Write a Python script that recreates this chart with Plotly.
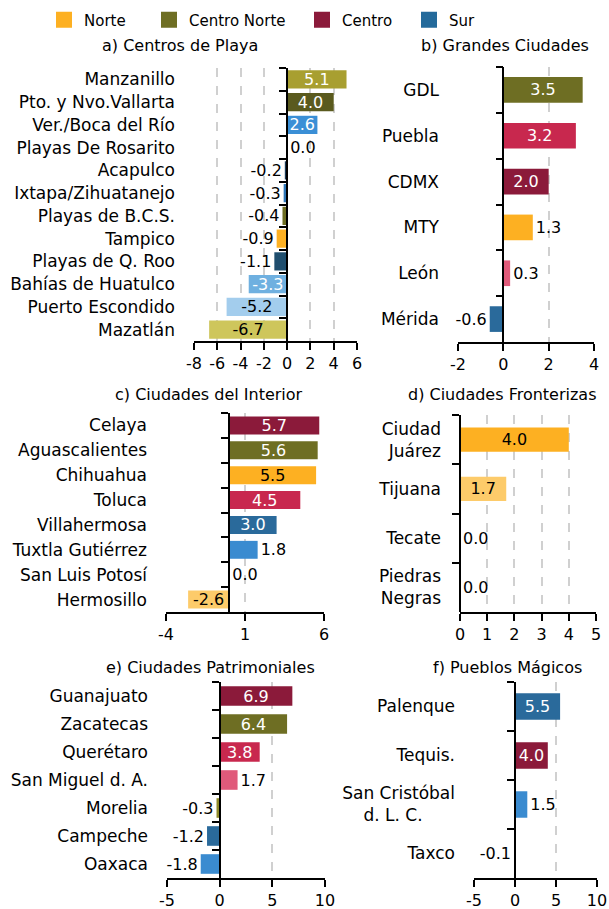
import plotly.graph_objects as go

W, H = 609, 909
FONT = "DejaVu Sans"
FS = 16        # bar labels, axis ticks, titles
FS_CAT = 17    # category labels
FS_LEG = 15    # legend

# ---------------- data ----------------
regions = ["Norte", "Centro Norte", "Centro", "Sur"]

a_names = ["Manzanillo", "Pto. y Nvo.Vallarta", "Ver./Boca del Río", "Playas De Rosarito",
           "Acapulco", "Ixtapa/Zihuatanejo", "Playas de B.C.S.", "Tampico",
           "Playas de Q. Roo", "Bahías de Huatulco", "Puerto Escondido", "Mazatlán"]
a_values = [5.1, 4.0, 2.6, 0.0, -0.2, -0.3, -0.4, -0.9, -1.1, -3.3, -5.2, -6.7]
a_ticks = [-8, -6, -4, -2, 0, 2, 4, 6]

b_names = ["GDL", "Puebla", "CDMX", "MTY", "León", "Mérida"]
b_values = [3.5, 3.2, 2.0, 1.3, 0.3, -0.6]
b_ticks = [-2, 0, 2, 4]

c_names = ["Celaya", "Aguascalientes", "Chihuahua", "Toluca", "Villahermosa",
           "Tuxtla Gutiérrez", "San Luis Potosí", "Hermosillo"]
c_values = [5.7, 5.6, 5.5, 4.5, 3.0, 1.8, 0.0, -2.6]
c_ticks = [-4, 1, 6]

d_names = ["Ciudad<br>Juárez", "Tijuana", "Tecate", "Piedras<br>Negras"]
d_values = [4.0, 1.7, 0.0, 0.0]
d_ticks = [0, 1, 2, 3, 4, 5]

e_names = ["Guanajuato", "Zacatecas", "Querétaro", "San Miguel d. A.", "Morelia",
           "Campeche", "Oaxaca"]
e_values = [6.9, 6.4, 3.8, 1.7, -0.3, -1.2, -1.8]
e_ticks = [-5, 0, 5, 10]

f_names = ["Palenque", "Tequis.", "San Cristóbal<br>d. L. C.\u00a0\u00a0\u00a0\u00a0\u00a0\u00a0", "Taxco"]
f_values = [5.5, 4.0, 1.5, -0.1]
f_ticks = [-5, 0, 5, 10]

titles = ["a) Centros de Playa", "b) Grandes Ciudades", "c) Ciudades del Interior",
          "d) Ciudades Fronterizas", "e) Ciudades Patrimoniales", "f) Pueblos Mágicos"]

# ---------------- styles ----------------
NORTE, CNORTE, CENTRO, SUR = "#FDB022", "#6E6E23", "#8B1A3A", "#246A9B"
legend_colors = [NORTE, CNORTE, CENTRO, SUR]
legend_swatch_x = [63, 168, 321, 428]   # pixel centre of each legend swatch
W_, K_ = "white", "black"

a_colors = ["#A89F30", "#5A5A1E", "#3A8FD6", NORTE, "#1B3A57", "#2E75B6", CNORTE,
            NORTE, "#1F4E6E", "#6FB0E0", "#A3CDED", "#CEC65C"]
a_tc = [W_, W_, W_, K_, K_, K_, K_, K_, K_, W_, K_, K_]
a_tp = ["inside", "inside", "inside", "outside", "outside", "outside", "outside",
        "outside", "outside", "inside", "inside", "inside"]

b_colors = [CNORTE, "#C8284E", CENTRO, NORTE, "#E05A7A", "#2A6A9B"]
b_tc = [W_, W_, W_, K_, K_, K_]
b_tp = ["inside", "inside", "inside", "outside", "outside", "outside"]

c_colors = [CENTRO, CNORTE, NORTE, "#C8284E", "#2A6A9B", "#3A8BD0", NORTE, "#FDCB6A"]
c_tc = [W_, W_, K_, W_, W_, K_, K_, K_]
c_tp = ["inside", "inside", "inside", "inside", "inside", "outside", "outside", "inside"]

d_colors = [NORTE, "#FDCB6A", NORTE, NORTE]
d_tc = [K_, K_, K_, K_]
d_tp = ["inside", "inside", "outside", "outside"]

e_colors = [CENTRO, CNORTE, "#C8284E", "#E05A7A", "#8E8A2A", "#2A6A9B", "#3A8BD0"]
e_tc = [W_, W_, W_, K_, K_, K_, K_]
e_tp = ["inside", "inside", "inside", "outside", "outside", "outside", "outside"]

f_colors = ["#2A6A9B", CENTRO, "#3A8BD0", "#6FB0E0"]
f_tc = [W_, W_, K_, K_]
f_tp = ["inside", "inside", "outside", "outside"]

# panel layout (pixels): x0, x1, ytop, ybottom ; axis range ; bar width ; title pos
panels = [
    dict(names=a_names, values=a_values, ticks=a_ticks, colors=a_colors, tc=a_tc, tp=a_tp,
         box=(194, 357, 68, 341), rng=(-8, 6), bw=0.8, tpos=(180, 45)),
    dict(names=b_names, values=b_values, ticks=b_ticks, colors=b_colors, tc=b_tc, tp=b_tp,
         box=(458, 594, 67, 342), rng=(-2, 4), bw=0.56, tpos=(505, 45)),
    dict(names=c_names, values=c_values, ticks=c_ticks, colors=c_colors, tc=c_tc, tp=c_tp,
         box=(166, 324, 413, 612), rng=(-4, 6), bw=0.72, tpos=(209, 395)),
    dict(names=d_names, values=d_values, ticks=d_ticks, colors=d_colors, tc=d_tc, tp=d_tp,
         box=(460, 596, 415, 612), rng=(0, 5), bw=0.49, tpos=(502, 395)),
    dict(names=e_names, values=e_values, ticks=e_ticks, colors=e_colors, tc=e_tc, tp=e_tp,
         box=(167, 325, 682, 878), rng=(-5, 10), bw=0.7, tpos=(210, 667)),
    dict(names=f_names, values=f_values, ticks=f_ticks, colors=f_colors, tc=f_tc, tp=f_tp,
         box=(474, 597, 682, 878), rng=(-5, 10), bw=0.54, tpos=(507, 667)),
]


def px(xp):
    return xp / W


def py(yp):
    return 1 - yp / H


fig = go.Figure()
layout = dict(
    template="none",
    width=W, height=H, margin=dict(l=0, r=0, t=0, b=0, pad=0, autoexpand=False),
    paper_bgcolor="white", plot_bgcolor="white",
    font=dict(family=FONT, size=FS, color="black"),
    showlegend=True,
    annotations=[],
)

for i, p in enumerate(panels):
    k = i + 1
    xs = "" if k == 1 else str(k)
    ov = str(k + 6)
    n = len(p["names"])
    ypos = [n - 1 - j for j in range(n)]
    x0, x1, yt, yb = p["box"]
    xdom = [px(x0), px(x1)]
    ydom = [py(yb), py(yt)]
    r0, r1 = p["rng"]

    fig.add_trace(go.Bar(
        x=p["values"], y=ypos, orientation="h", width=p["bw"],
        marker=dict(color=p["colors"], line=dict(width=0)),
        text=[f"{v:.1f}" for v in p["values"]], textposition=p["tp"],
        textfont=dict(family=FONT, size=FS, color=p["tc"]),
        insidetextanchor="middle", constraintext="none", cliponaxis=False,
        showlegend=False, hoverinfo="skip",
        xaxis="x" + xs, yaxis="y" + xs,
    ))
    # invisible trace to hold the zero-crossing axis
    fig.add_trace(go.Scatter(x=[None], y=[None], xaxis="x" + xs, yaxis="y" + ov,
                             showlegend=False, hoverinfo="skip"))

    layout["xaxis" + xs] = dict(
        domain=xdom, anchor="y" + xs, range=[r0, r1], automargin=False,
        tickmode="array", tickvals=p["ticks"], ticktext=[f"{t:g}" for t in p["ticks"]],
        tickangle=0,
        showgrid=True, gridcolor="#D0D0D0", griddash="dash", gridwidth=1.5,
        zeroline=False, showline=True, linecolor="black", linewidth=1.5,
        ticks="outside", ticklen=7, tickwidth=1.5, tickcolor="black",
        tickfont=dict(family=FONT, size=FS, color="black"), fixedrange=True,
    )
    layout["yaxis" + xs] = dict(
        domain=ydom, anchor="x" + xs, range=[-0.5, n - 0.5], automargin=False,
        tickmode="array", tickvals=ypos, ticktext=p["names"], ticks="",
        showline=False, showgrid=False, zeroline=False, ticklabelstandoff=18,
        tickfont=dict(family=FONT, size=FS_CAT, color="black"), fixedrange=True,
    )
    zero_pos = xdom[0] + (0 - r0) / (r1 - r0) * (xdom[1] - xdom[0])
    layout["yaxis" + ov] = dict(
        overlaying="y" + xs, anchor="free", position=zero_pos, side="left",
        range=[-0.5, n - 0.5], automargin=False,
        tickmode="array", tickvals=[j + 0.5 for j in range(n)],
        showticklabels=False, ticks="outside", ticklen=7, tickwidth=1.5, tickcolor="black",
        showline=True, linecolor="black", linewidth=1.5, showgrid=False, zeroline=False,
        fixedrange=True,
    )
    layout["annotations"].append(dict(
        text=titles[i], x=px(p["tpos"][0]), y=py(p["tpos"][1]), xref="paper", yref="paper",
        xanchor="center", yanchor="middle", showarrow=False,
        font=dict(family=FONT, size=FS, color="black"),
    ))

# one legend per region so each entry sits where the reference puts it
for j, (name, col, sx) in enumerate(zip(regions, legend_colors, legend_swatch_x)):
    lg = "legend" if j == 0 else f"legend{j + 1}"
    fig.add_trace(go.Scatter(x=[None], y=[None], mode="markers", name=name, legend=lg,
                             marker=dict(symbol="square", size=17, color=col),
                             xaxis="x", yaxis="y"))
    layout[lg] = dict(orientation="h", x=px(sx - 19), y=py(20), xanchor="left",
                      yanchor="middle", font=dict(family=FONT, size=FS_LEG, color="black"),
                      itemsizing="trace", bgcolor="rgba(0,0,0,0)", borderwidth=0)

fig.update_layout(**layout)
fig.write_html(
    "out.html",
    config={"displayModeBar": False, "responsive": False},
    post_script="document.body.style.margin='0';document.body.style.overflow='hidden';",
)
